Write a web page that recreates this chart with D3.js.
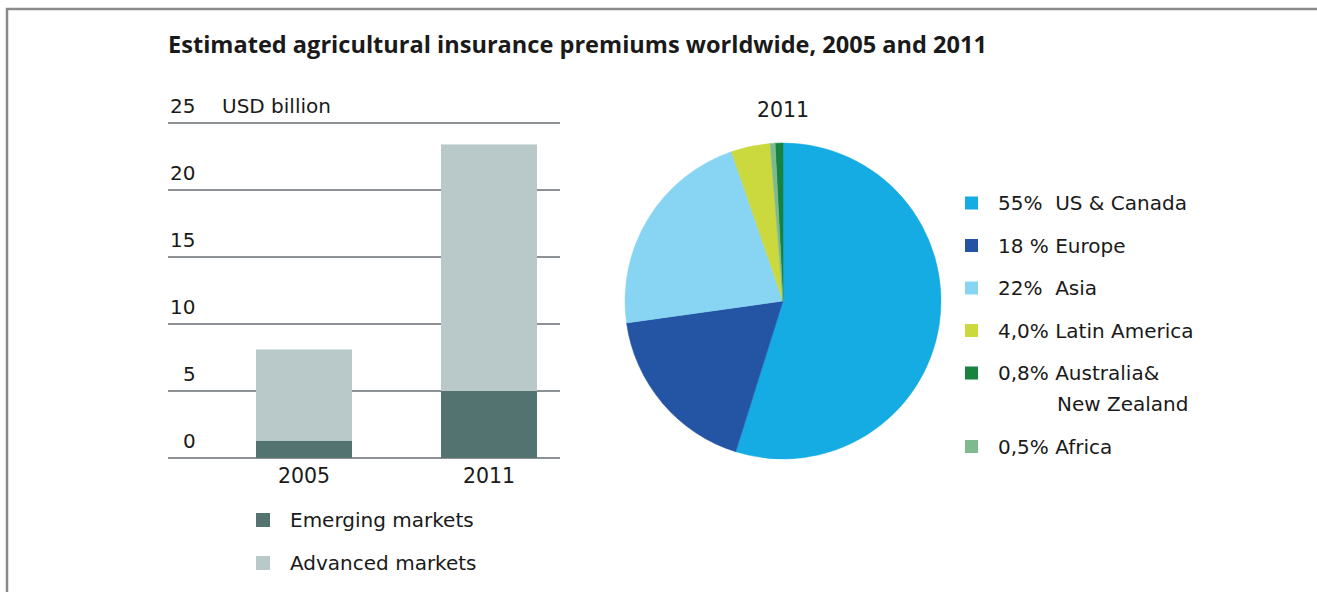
<!DOCTYPE html>
<meta charset="utf-8">
<style>
body { margin: 0; background: #fff; }
text { font-family: "DejaVu Sans", "Open Sans", sans-serif; fill: #1a1a1a; white-space: pre; }
.title { font-family: "Open Sans", "Noto Sans", sans-serif; font-weight: bold; }
.grid line { stroke: #8d9095; stroke-width: 2px; }
</style>
<svg width="1317" height="592"></svg>
<script src="https://d3js.org/d3.v7.min.js"></script>
<script>

var svg = d3.select("svg");

// Bar chart data (USD billion)
var years    = ["2005", "2011"];
var emerging = [1.3, 5.0];
var advanced = [6.8, 18.4];
var barSeries = ["Emerging markets", "Advanced markets"];
var barColors = ["#527370", "#b9c8c8"];
var yTicks   = [0, 5, 10, 15, 20, 25];

// Pie data, 2011 (legend order)
var regions     = ["US & Canada", "Europe", "Asia", "Latin America", "Australia& New Zealand", "Africa"];
var regionShare = [55, 18, 22, 4.0, 0.8, 0.5];
var shareLabels = ["55%  US & Canada", "18 % Europe", "22%  Asia", "4,0% Latin America", "0,8% Australia&", "0,5% Africa"];
var regionColors = ["#14ace2", "#2455a5", "#88d5f3", "#cbd93e", "#17833f", "#7fba8f"];
// order of slices clockwise from 12 o'clock
var sliceOrder = ["US & Canada", "Europe", "Asia", "Latin America", "Africa", "Australia& New Zealand"];

// frame
svg.append("path")
    .attr("d", "M7,592V9H1317")
    .attr("fill", "none")
    .attr("stroke", "#8a8a8a")
    .attr("stroke-width", 2.5);

svg.append("text")
    .attr("class", "title")
    .attr("x", 168)
    .attr("y", 53)
    .attr("textLength", 819)
    .attr("lengthAdjust", "spacingAndGlyphs")
    .style("font-size", "22.5px")
    .text("Estimated agricultural insurance premiums worldwide, 2005 and 2011");

// ---- bar chart ----
var y = d3.scaleLinear().domain([0, 25]).range([458, 123]);
var x = d3.scaleBand().domain(years).range([209.75, 583.25]).paddingInner(0.481).paddingOuter(0.25);

var grid = svg.append("g").attr("class", "grid");
grid.selectAll("line")
  .data(yTicks)
  .enter().append("line")
    .attr("x1", 168)
    .attr("x2", 560)
    .attr("y1", function(d) { return y(d); })
    .attr("y2", function(d) { return y(d); });

grid.selectAll("text")
  .data(yTicks)
  .enter().append("text")
    .attr("x", function(d) { return d < 10 ? 183 : 170; })
    .attr("y", function(d) { return y(d) - 10; })
    .style("font-size", "20px")
    .text(function(d) { return d; });

svg.append("text")
    .attr("x", 222)
    .attr("y", y(25) - 10)
    .style("font-size", "20px")
    .text("USD billion");

var stacked = d3.stack().keys([0, 1])(years.map(function(yr, i) { return [emerging[i], advanced[i]]; }));

svg.append("g").selectAll("g")
  .data(stacked)
  .enter().append("g")
    .attr("fill", function(d, i) { return barColors[i]; })
  .selectAll("rect")
  .data(function(d) { return d; })
  .enter().append("rect")
    .attr("x", function(d, i) { return x(years[i]); })
    .attr("width", x.bandwidth())
    .attr("y", function(d) { return y(d[1]); })
    .attr("height", function(d) { return y(d[0]) - y(d[1]); });

svg.append("g").selectAll("text")
  .data(years)
  .enter().append("text")
    .attr("x", function(d) { return x(d) + x.bandwidth() / 2; })
    .attr("y", 483)
    .attr("text-anchor", "middle")
    .style("font-size", "20.5px")
    .text(function(d) { return d; });

var barLegend = svg.append("g").selectAll("g")
  .data(barSeries)
  .enter().append("g")
    .attr("transform", function(d, i) { return "translate(256," + (520 + i * 43) + ")"; });
barLegend.append("rect")
    .attr("y", -7)
    .attr("width", 14)
    .attr("height", 14)
    .attr("fill", function(d, i) { return barColors[i]; });
barLegend.append("text")
    .attr("x", 34)
    .attr("y", 7)
    .style("font-size", "20px")
    .text(function(d) { return d; });

// ---- pie chart ----
var cx = 783, cy = 301, r = 158;

svg.append("text")
    .attr("x", cx)
    .attr("y", 117)
    .attr("text-anchor", "middle")
    .style("font-size", "20.5px")
    .text("2011");

var pieData = regions.map(function(d, i) { return { name: d, value: regionShare[i], color: regionColors[i] }; });
var pie = d3.pie()
    .value(function(d) { return d.value; })
    .sort(function(a, b) { return sliceOrder.indexOf(a.name) - sliceOrder.indexOf(b.name); });
var arc = d3.arc().innerRadius(0).outerRadius(r);

svg.append("g")
    .attr("transform", "translate(" + cx + "," + cy + ")")
  .selectAll("path")
  .data(pie(pieData))
  .enter().append("path")
    .attr("d", arc)
    .attr("fill", function(d) { return d.data.color; })
    .attr("stroke", function(d) { return d.data.color; })
    .attr("stroke-width", 0.5);

var pieLegend = svg.append("g").selectAll("g")
  .data(pieData)
  .enter().append("g")
    .attr("transform", function(d, i) { return "translate(965," + (203 + i * 42.5 + (i == 5 ? 31 : 0)) + ")"; });
pieLegend.append("rect")
    .attr("y", -6.5)
    .attr("width", 13)
    .attr("height", 13)
    .attr("fill", function(d) { return d.color; });
pieLegend.append("text")
    .attr("x", 33)
    .attr("y", 7)
    .style("font-size", "20px")
    .text(function(d, i) { return shareLabels[i]; });
pieLegend.filter(function(d, i) { return i == 4; })
  .append("text")
    .attr("x", 92)
    .attr("y", 38)
    .style("font-size", "20px")
    .text("New Zealand");

</script>
